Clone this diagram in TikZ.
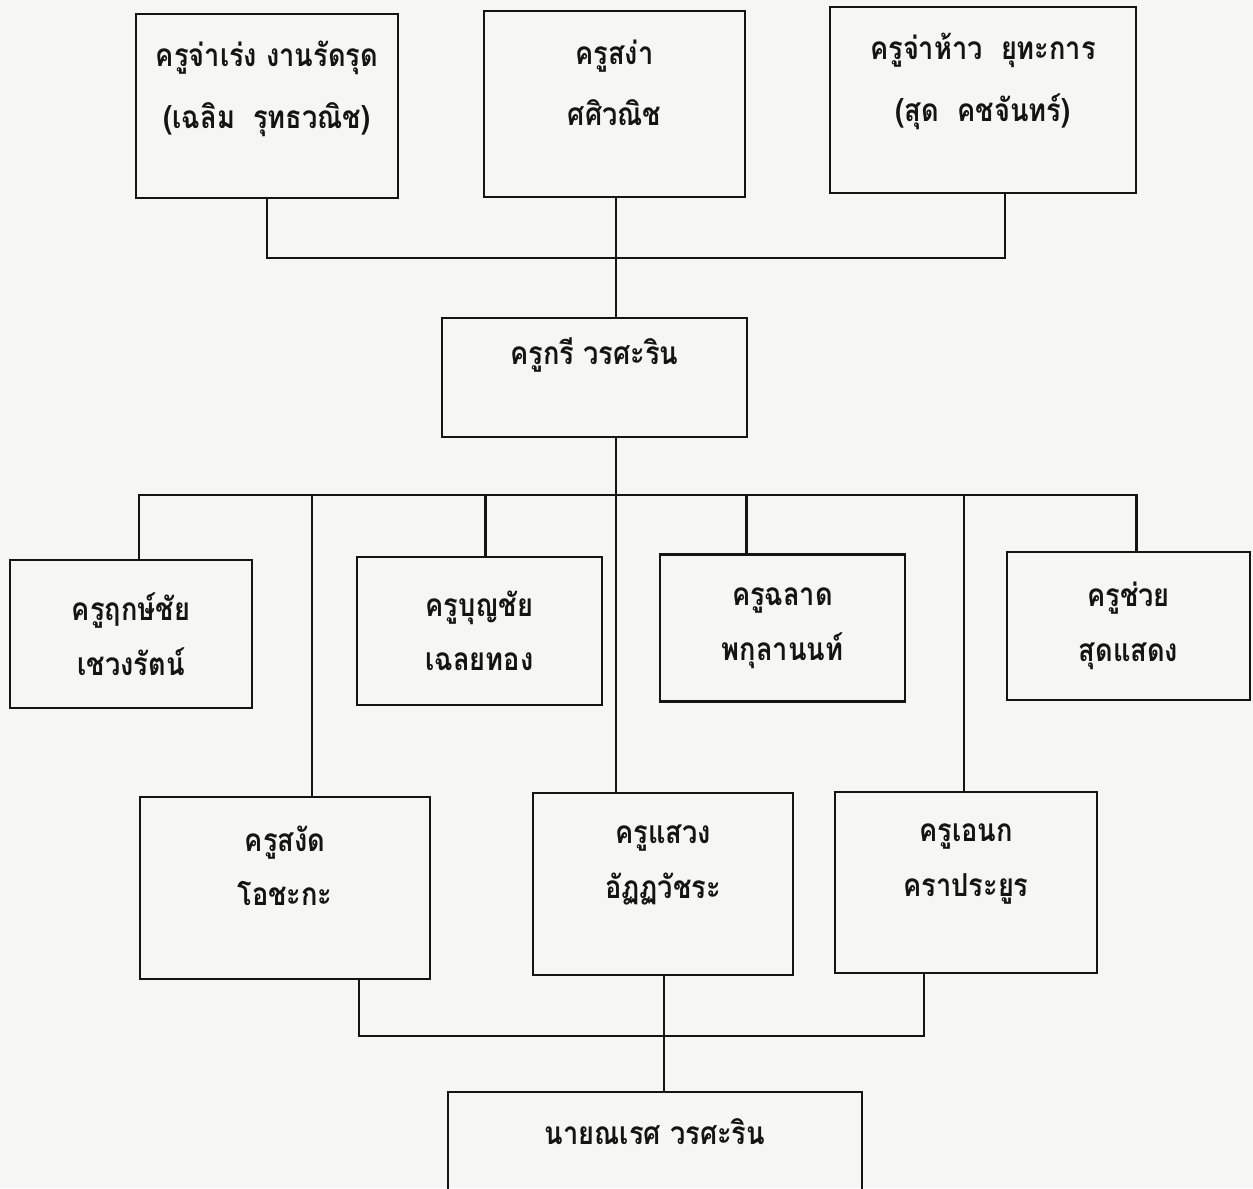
\documentclass[tikz,border=0pt]{standalone}
\usepackage{fontspec}
\newfontfamily\thaifont[Script=Thai,FakeStretch=0.86]{Loma}
\usetikzlibrary{calc}
\definecolor{scanpaper}{RGB}{246,246,244}
\definecolor{inkline}{RGB}{20,20,20}

\tikzset{
  person/.style={draw=inkline, line width=1.4pt, align=center, inner sep=0pt,
    text=inkline, font=\thaifont\bfseries\fontsize{18}{31}\selectfont},
  widelines/.style={font=\thaifont\bfseries\fontsize{18}{35}\selectfont},
  liftup/.style={text depth=#1},
  link/.style={draw=inkline, line width=1.4pt}
}

\begin{document}
\begin{tikzpicture}[x=0.02cm,y=-0.02cm]
\useasboundingbox (0,0) rectangle (1253,1188);
\fill[scanpaper] (0,0) rectangle (1253,1188);
\clip (0,0) rectangle (1253,1188);

% teachers of the first generation
\node[person, widelines, liftup=0.85cm, minimum width=5.24cm, minimum height=3.68cm] (chamroeng) at (267,106)
  {ครูจ่าเร่ง งานรัดรุด\\(เฉลิม\ \ รุทธวณิช)};
\node[person, widelines, liftup=0.85cm, minimum width=5.22cm, minimum height=3.72cm] (sanga) at (614.5,104)
  {ครูสง่า\\ศศิวณิช};
\node[person, widelines, liftup=0.9cm, minimum width=6.12cm, minimum height=3.72cm] (chamhao) at (983,100)
  {ครูจ่าห้าว\ \ ยุทะการ\\(สุด\ \ คชจันทร์)};

\node[person, liftup=1.05cm, minimum width=6.1cm, minimum height=2.38cm] (kri) at (594.5,377.5)
  {ครูกรี วรศะริน};

% second row
\node[person, minimum width=4.84cm, minimum height=2.96cm] (rit) at (131,634)
  {ครูฤกษ์ชัย\\เชวงรัตน์};
\node[person, minimum width=4.9cm, minimum height=2.96cm] (bunchai) at (479.5,631)
  {ครูบุญชัย\\เฉลยทอง};
\node[person, minimum width=4.9cm, minimum height=2.94cm] (chalat) at (782.5,628)
  {ครูฉลาด\\พกุลานนท์};
\node[person, minimum width=4.86cm, minimum height=2.96cm] (chuai) at (1128.5,626)
  {ครูช่วย\\สุดแสดง};

% third row
\node[person, liftup=0.9cm, minimum width=5.8cm, minimum height=3.64cm] (sangat) at (285,888)
  {ครูสงัด\\โอชะกะ};
\node[person, liftup=0.9cm, minimum width=5.2cm, minimum height=3.64cm] (saeng) at (663,884)
  {ครูแสวง\\อัฏฏวัชระ};
\node[person, liftup=0.9cm, minimum width=5.24cm, minimum height=3.62cm] (anek) at (966,882.5)
  {ครูเอนก\\คราประยูร};

\node[person, liftup=0.8cm, minimum width=8.28cm, minimum height=2.4cm] (naret) at (655,1152)
  {นายณเรศ วรศะริน};

% rails
\coordinate (toprail) at (616,258);
\coordinate (midrail) at (616,495);
\coordinate (lowrail) at (664,1036);

\draw[link] (chamroeng.south) |- (toprail);
\draw[link] ($(chamhao.south)+(22,0)$) |- (toprail);
\draw[link] (sanga.south -| toprail) -- (kri.north -| toprail);

\draw[link] (kri.south -| midrail) -- (saeng.north -| midrail);
\draw[link] ($(rit.north)+(8,0)$) |- (midrail) -| ($(chuai.north)+(8,0)$);
\draw[link] ($(bunchai.north)+(6,0)$) |- (midrail);
\draw[link] ($(chalat.north)+(-36,0)$) |- (midrail);
\draw[link] ($(sangat.north)+(27,0)$) |- (midrail);
\draw[link] ($(anek.north)+(-2,0)$) |- (midrail);

\draw[link] ($(sangat.south)+(74,0)$) |- (lowrail) -| ($(anek.south)+(-42,0)$);
\draw[link] (saeng.south -| lowrail) -- (naret.north -| lowrail);
\end{tikzpicture}
\end{document}
